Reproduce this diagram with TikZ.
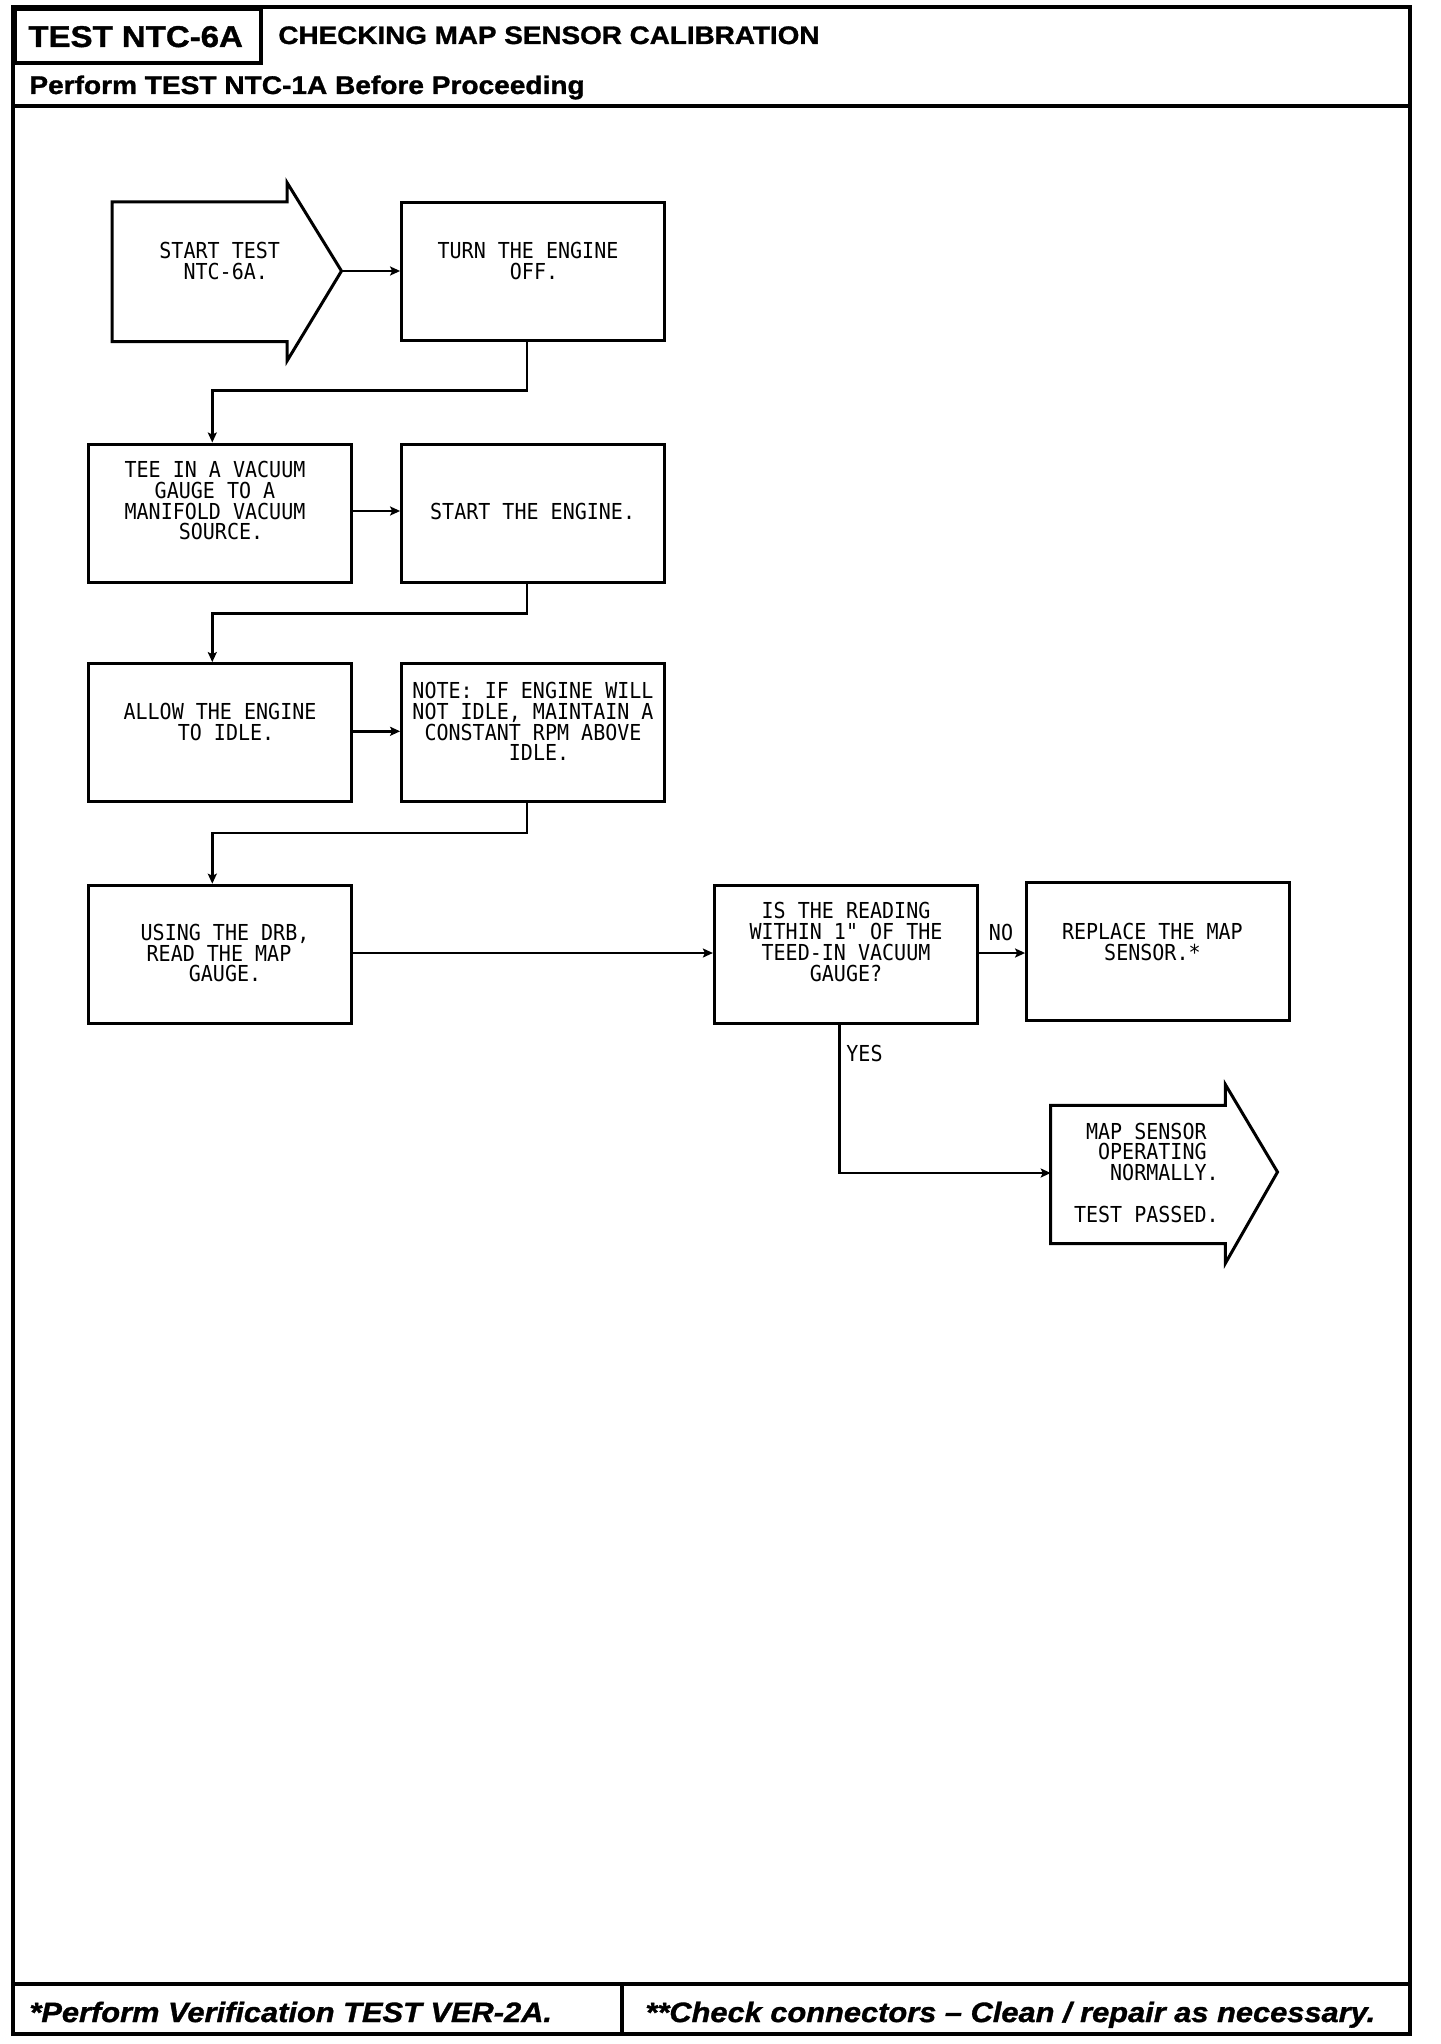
\documentclass[tikz,border=0pt]{standalone}
\usepackage{fontspec}
\setmainfont{Liberation Sans}
\newfontfamily\hdrfont[FakeStretch=1.1,FakeBold=1.2]{Liberation Sans}
\newfontfamily\plotfont[FakeStretch=0.91]{DejaVu Sans Mono}
\usetikzlibrary{arrows.meta}
\tikzset{
  frame/.style={line width=1.6pt},
  stepbox/.style={draw, line width=1.5pt, minimum width=131.6pt, minimum height=69pt, inner sep=0pt},
  ptext/.style={font=\plotfont\fontsize{11}{10.4}\selectfont, align=center, inner sep=0pt},
  conn/.style={line width=1.2pt, -{Stealth[length=5pt,width=4.5pt,inset=1pt]}},
  hdr/.style={font=\hdrfont\bfseries, inner sep=0pt, anchor=base west},
  ftr/.style={font=\hdrfont\bfseries\itshape\fontsize{14}{16}\selectfont, inner sep=0pt, anchor=base west},
}
\begin{document}
\begin{tikzpicture}[x=0.5pt,y=-0.5pt]
\useasboundingbox (0,0) rectangle (1440,2044);
% outer frame
\draw[frame] (13,7) rectangle (1410,2034);
\draw[frame] (15,9) rectangle (261,63);
\draw[frame] (13,106) -- (1410,106);
\draw[frame] (13,1984) -- (1410,1984);
\draw[frame] (622,1984) -- (622,2034);
\node[hdr, font=\hdrfont\bfseries\fontsize{15}{17}\selectfont] (ttl) at (28,47) {TEST NTC-6A};
\node[hdr, font=\hdrfont\bfseries\fontsize{12.66}{15}\selectfont] (ttl2) at (278,44) {CHECKING MAP SENSOR CALIBRATION};
\node[hdr, font=\hdrfont\bfseries\fontsize{12.76}{15}\selectfont] (pre) at (29,94) {Perform TEST NTC-1A Before Proceeding};
\node[ftr] (f1) at (29,2022) {*Perform Verification TEST VER-2A.};
\node[ftr] (f2) at (645,2022) {**Check connectors \textendash{} Clean / repair as necessary.};

% start arrow
\draw[line width=1.5pt, line join=miter] (112,202) -- (287,202) -- (287,182.5) -- (341.5,271) -- (287,361) -- (287,341.5) -- (112,341.5) -- cycle;
\coordinate (starttip) at (341.5,271);
\node[ptext] (startT) at (219.7,260.7) {START TEST\\NTC-6A\rlap{.}};

% boxes
\node[stepbox] (turn) at (533.2,271.8) {};
\node[stepbox] (tee) at (220.3,513) {};
\node[stepbox] (starte) at (533.2,513) {};
\node[stepbox] (allow) at (220.3,732.6) {};
\node[stepbox] (note) at (533.2,732.6) {};
\node[stepbox] (using) at (220.3,954.2) {};
\node[stepbox] (isread) at (846,954.2) {};
\node[stepbox] (replace) at (1158.2,951.6) {};

\node[ptext] (turnT) at (528,260.7) {TURN THE ENGINE\\OFF\rlap{.}};
\node[ptext] (teeT) at (215,500.6) {TEE IN A VACUUM\\GAUGE TO A\\MANIFOLD VACUUM\\SOURCE\rlap{.}};
\node[ptext] (starteT) at (526.6,511) {START THE ENGINE\rlap{.}};
\node[ptext] (allowT) at (220,722.2) {ALLOW THE ENGINE\\TO IDLE\rlap{.}};
\node[ptext] (noteT) at (533,721.5) {NOTE: IF ENGINE WILL\\NOT IDLE, MAINTAIN A\\CONSTANT RPM ABOVE\\IDLE\rlap{.}};
\node[ptext] (usingT) at (219,953) {USING THE DRB\rlap{,}\\READ THE MAP\\GAUGE\rlap{.}};
\node[ptext] (isreadT) at (846,941.9) {IS THE READING\\WITHIN 1" OF THE\\TEED-IN VACUUM\\GAUGE?};
\node[ptext] (replaceT) at (1152.4,941.9) {REPLACE THE MAP\\SENSOR.*};

% end arrow
\draw[line width=1.5pt, line join=miter] (1050.7,1105.4) -- (1225.4,1105.4) -- (1225.4,1084.6) -- (1277.5,1172) -- (1225.4,1263.2) -- (1225.4,1243.6) -- (1050.7,1243.6) -- cycle;
\coordinate (endin) at (1050.7,1173);
\node[ptext, align=right, anchor=east] (endT) at (1207,1172.6) {MAP SENSOR\\OPERATING\\NORMALLY\rlap{.}\\[10.4pt]TEST PASSED\rlap{.}};

% connectors
\draw[conn] (starttip) -- (starttip -| turn.west);
\draw[conn] ([xshift=-3pt]turn.south) -- ++(0,48) -| ([xshift=-4pt]tee.north);
\draw[conn] (tee.east |- 0,511) -- (starte.west |- 0,511);
\draw[conn] ([xshift=-3pt]starte.south) -- ++(0,30) -| ([xshift=-4pt]allow.north);
\draw[conn] (allow.east |- 0,731.3) -- (note.west |- 0,731.3);
\draw[conn] ([xshift=-3pt]note.south) -- ++(0,30) -| ([xshift=-4pt]using.north);
\draw[conn] (using.east |- 0,953) -- (isread.west |- 0,953);
\draw[conn] (isread.east |- 0,953) -- (replace.west |- 0,953);
\draw[conn] ([xshift=-3.25pt]isread.south) |- (endin);
\node[ptext] (no) at (1001,932) {NO};
\node[ptext, anchor=west] (yes) at (846,1053) {YES};
\end{tikzpicture}
\end{document}
